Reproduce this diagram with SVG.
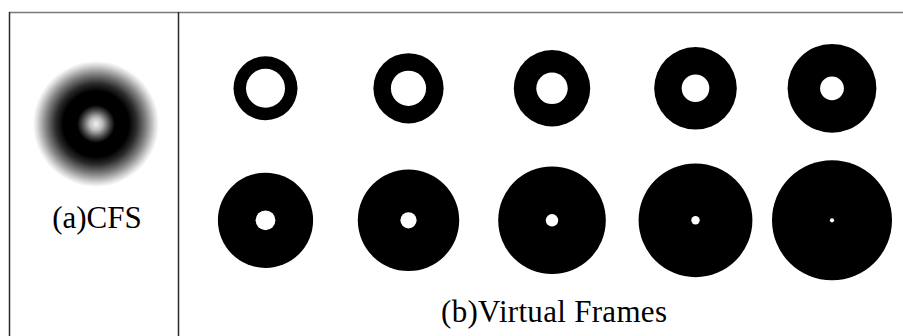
<svg xmlns="http://www.w3.org/2000/svg" width="903" height="336" viewBox="0 0 903 336">
  <style>
    .frame { stroke: #2a2a2a; stroke-width: 1.5; fill: none; }
    .rule { stroke: #7a7a7a; stroke-width: 1.6; fill: none; }
    .disc { fill: #000; }
    .hole { fill: #fff; }
    .cap { font-family: "Liberation Serif", "DejaVu Serif", serif; font-size: 31px; fill: #000; text-anchor: middle; }
  </style>
  <defs>
    <radialGradient id="cfsGrad" cx="0.5" cy="0.5" r="0.5">
      <stop offset="0" stop-color="#f2f2f2"/>
      <stop offset="0.1" stop-color="#bdbdbd"/>
      <stop offset="0.22" stop-color="#444"/>
      <stop offset="0.3" stop-color="#000"/>
      <stop offset="0.52" stop-color="#000"/>
      <stop offset="0.64" stop-color="#2a2a2a"/>
      <stop offset="0.8" stop-color="#858585"/>
      <stop offset="0.93" stop-color="#d8d8d8"/>
      <stop offset="1" stop-color="#fff"/>
    </radialGradient>
  </defs>
  <rect width="903" height="336" fill="#fff"/>

  <!-- table rules -->
  <g id="table">
    <line class="rule" x1="9" y1="12.5" x2="903" y2="12.5"/>
    <line class="frame" x1="9.5" y1="12" x2="9.5" y2="336"/>
    <line class="frame" x1="178.5" y1="12" x2="178.5" y2="336"/>
  </g>

  <!-- (a) CFS -->
  <g id="cfs">
    <circle cx="96" cy="124" r="63" fill="url(#cfsGrad)"/>
    <text class="cap" x="97" y="228">(a)CFS</text>
  </g>

  <!-- (b) virtual frames, row 1 -->
  <g id="vf1"><circle class="disc" cx="265.5" cy="88.3" r="32"/><circle class="hole" cx="265.5" cy="88.3" r="19.5"/></g>
  <g id="vf2"><circle class="disc" cx="408.5" cy="88.3" r="35.1"/><circle class="hole" cx="408.5" cy="88.3" r="17.6"/></g>
  <g id="vf3"><circle class="disc" cx="552" cy="88.3" r="38.2"/><circle class="hole" cx="552" cy="88.3" r="15.7"/></g>
  <g id="vf4"><circle class="disc" cx="695.5" cy="88.3" r="41.3"/><circle class="hole" cx="695.5" cy="88.3" r="13.8"/></g>
  <g id="vf5"><circle class="disc" cx="832" cy="88.3" r="44.4"/><circle class="hole" cx="832" cy="88.3" r="11.9"/></g>

  <!-- row 2 -->
  <g id="vf6"><circle class="disc" cx="265.5" cy="220.3" r="47.6"/><circle class="hole" cx="265.5" cy="220.3" r="9.9"/></g>
  <g id="vf7"><circle class="disc" cx="408.5" cy="220.3" r="50.7"/><circle class="hole" cx="408.5" cy="220.3" r="8.1"/></g>
  <g id="vf8"><circle class="disc" cx="552" cy="220.3" r="53.8"/><circle class="hole" cx="552" cy="220.3" r="6.2"/></g>
  <g id="vf9"><circle class="disc" cx="695.5" cy="220.3" r="56.9"/><circle class="hole" cx="695.5" cy="220.3" r="4.2"/></g>
  <g id="vf10"><circle class="disc" cx="832" cy="220.3" r="60"/><circle class="hole" cx="832" cy="220.3" r="2.1"/></g>

  <text id="vf-caption" class="cap" x="554" y="322" textLength="226" lengthAdjust="spacing">(b)Virtual Frames</text>
</svg>
